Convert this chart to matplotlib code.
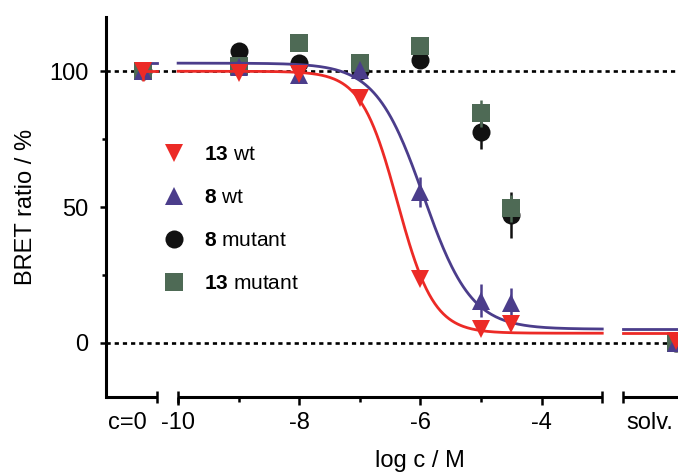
import numpy as np
import matplotlib
matplotlib.use('Agg')
import matplotlib.pyplot as plt
from matplotlib.lines import Line2D
from matplotlib.ticker import MultipleLocator

plt.rcParams['font.family'] = ['Liberation Sans', 'DejaVu Sans']
plt.rcParams['mathtext.fontset'] = 'custom'
plt.rcParams['mathtext.rm'] = 'Liberation Sans'
plt.rcParams['mathtext.bf'] = 'Liberation Sans:bold'

# data (BRET ratio in %)
log_conc = [-9, -8, -7, -6, -5, -4.5]
wt13 = [99.3, 99.0, 90.0, 23.6, 5.0, 7.0]
wt13_err = [1.0, 1.0, 1.5, 1.5, 1.0, 1.0]
wt8 = [101.5, 98.5, 100.5, 55.5, 15.5, 14.5]
wt8_err = [1.0, 1.5, 1.0, 5.5, 6.0, 5.8]
mut8 = [107.5, 103.0, 100.0, 104.0, 77.5, 47.0]
mut8_err = [1.0, 3.0, 1.5, 1.5, 6.0, 8.5]
mut13 = [102.0, 110.5, 103.0, 109.5, 84.5, 49.5]
mut13_err = [1.0, 1.0, 1.5, 1.0, 5.0, 5.0]

# controls: c=0 and solvent
ctrl_c0 = {'wt13': 100.0, 'wt8': 100.0, 'mut8': 100.0, 'mut13': 100.0}
ctrl_c0_err = {'wt13': 3.5, 'wt8': 3.0, 'mut8': 2.0, 'mut13': 2.0}
ctrl_solv = {'wt13': 0.5, 'wt8': 0.0, 'mut8': 0.0, 'mut13': 0.0}

# sigmoidal fits (top, bottom, logIC50, hill)
fit13 = (100.0, 3.5, -6.38, 1.45)
fit8 = (103.0, 5.0, -5.95, 1.1)

labels = [r'$\mathbf{13}$ wt', r'$\mathbf{8}$ wt', r'$\mathbf{8}$ mutant', r'$\mathbf{13}$ mutant']
red = '#ec2a26'
purple = '#4b3d8b'
black = '#111111'
green = '#4e6a55'

# layout of the segmented x axis (in log c units)
xmin, xmax = -11.19, -1.75
c0_x, solv_x = -10.58, -1.78
seg1 = (xmin, -10.35)
seg2 = (-10, -3)
seg3 = (-2.66, xmax + 0.1)


def logistic(x, p):
    top, bottom, x0, h = p
    return bottom + (top - bottom) / (1 + 10 ** (h * (x - x0)))


fig = plt.figure(figsize=(6.78, 4.72), dpi=100)
ax = fig.add_axes([106 / 678, 75 / 472, 572 / 678, 380 / 472])
ax.set_xlim(xmin, xmax)
ax.set_ylim(-20, 120)

ax.axhline(100, color='k', lw=1.9, ls=(0, (1.6, 1.5)), zorder=1)
ax.axhline(0, color='k', lw=1.9, ls=(0, (1.6, 1.5)), zorder=1)

series = [
    ('mut8', mut8, mut8_err, black, 'o', None),
    ('mut13', mut13, mut13_err, green, 's', None),
    ('wt8', wt8, wt8_err, purple, '^', fit8),
    ('wt13', wt13, wt13_err, red, 'v', fit13),
]
z = 3
for key, vals, errs, col, mk, fit in series:
    xs = [c0_x] + log_conc + [solv_x]
    ys = [ctrl_c0[key]] + vals + [ctrl_solv[key]]
    es = [ctrl_c0_err[key]] + errs + [0.0]
    if fit is not None:
        xx = np.linspace(seg2[0], seg2[1], 300)
        ax.plot(xx, logistic(xx, fit), color=col, lw=2.0, zorder=z)
        ax.plot([c0_x, seg1[1]], [fit[0], fit[0]], color=col, lw=2.0, zorder=z)
        ax.plot([seg3[0], seg3[1]], [fit[1], fit[1]], color=col, lw=2.0, zorder=z)
    ax.errorbar(xs, ys, yerr=es, fmt=mk, color=col, ms=13, mew=0,
                ecolor=col, elinewidth=1.8, capsize=7.5, capthick=1.8, zorder=z + 1)
    z += 2

# axes styling
for s in ['top', 'right', 'bottom']:
    ax.spines[s].set_visible(False)
ax.spines['left'].set_linewidth(2.2)
ax.spines['left'].set_color('k')

ax.set_yticks([0, 50, 100])
ax.yaxis.set_minor_locator(MultipleLocator(25))
ax.tick_params(axis='y', which='major', length=4.5, width=1.8, pad=8, labelsize=17)
ax.tick_params(axis='y', which='minor', length=3, width=1.8)

# segmented x axis
for a, b in [seg1, seg2, seg3]:
    ax.plot([a, b], [-20, -20], color='k', lw=2.2, clip_on=False, zorder=5,
            solid_capstyle='butt')
ax.plot([seg1[1], seg2[0], seg2[1], seg3[0]], [-20] * 4, '|', color='k',
        ms=8, mew=1.8, clip_on=False, zorder=5)

ax.set_xticks([-10.83, -10, -8, -6, -4, -2.21])
ax.set_xticklabels(['c=0', '-10', '-8', '-6', '-4', 'solv.'])
ax.set_xticks([-9, -7, -5], minor=True)
ax.tick_params(axis='x', which='major', length=6, width=1.8, pad=5, labelsize=17)
ax.tick_params(axis='x', which='minor', length=3.5, width=1.8)
ticks = ax.xaxis.get_major_ticks()
ticks[0].tick1line.set_visible(False)
ticks[-1].tick1line.set_visible(False)

ax.set_ylabel('BRET ratio / %', fontsize=17)
ax.yaxis.set_label_coords(-0.12, 0.5)
ax.set_xlabel('log c / M', fontsize=17)
ax.xaxis.set_label_coords(0.549, -0.14)

handles = [
    Line2D([], [], ls='none', marker='v', color=red, ms=13, mew=0),
    Line2D([], [], ls='none', marker='^', color=purple, ms=13, mew=0),
    Line2D([], [], ls='none', marker='o', color=black, ms=13, mew=0),
    Line2D([], [], ls='none', marker='s', color=green, ms=13, mew=0),
]
ax.legend(handles, labels, loc='upper left', bbox_to_anchor=(0.08, 0.69),
          frameon=False, fontsize=15, borderpad=0, handlelength=1.1,
          handletextpad=0.9, labelspacing=1.15)

fig.savefig('out.png', dpi=100)
